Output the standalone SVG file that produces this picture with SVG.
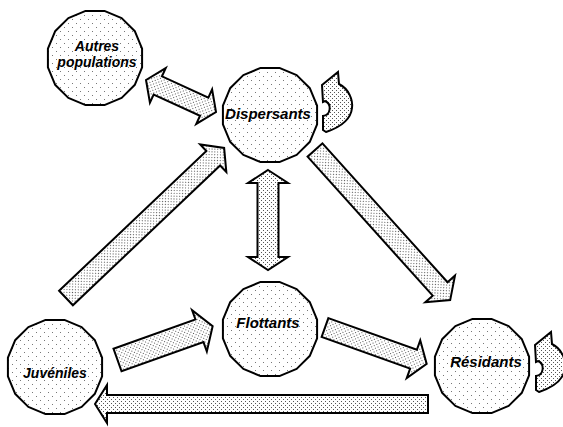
<svg xmlns="http://www.w3.org/2000/svg" width="563" height="427" viewBox="0 0 563 427">
<style>
.node{fill:url(#dotsSparse);stroke:#000;stroke-width:2;stroke-linejoin:round}
.arr{fill:url(#dotsDense);stroke:#000;stroke-width:2;stroke-linejoin:miter}
.lbl{font-family:"Liberation Sans",Arial,sans-serif;font-size:15px;font-weight:bold;font-style:italic;fill:#000;text-anchor:middle}
.sm{font-size:14px}
</style>
<defs>
<pattern id="dotsSparse" width="8" height="8" patternUnits="userSpaceOnUse">
<rect width="8" height="8" fill="#fff"/>
<rect x="1" y="1" width="1" height="1" fill="#777"/>
<rect x="5" y="5" width="1" height="1" fill="#777"/>
</pattern>
<pattern id="dotsDense" width="4" height="4" patternUnits="userSpaceOnUse">
<rect width="4" height="4" fill="#fff"/>
<rect x="0" y="0" width="1" height="1" fill="#555"/>
<rect x="2" y="2" width="1" height="1" fill="#555"/>
</pattern>
<polygon id="blob" points="47.08,9.37 39.91,26.67 26.67,39.91 9.37,47.08 -9.37,47.08 -26.67,39.91 -39.91,26.67 -47.08,9.37 -47.08,-9.37 -39.91,-26.67 -26.67,-39.91 -9.37,-47.08 9.37,-47.08 26.67,-39.91 39.91,-26.67 47.08,-9.37"/>
<path id="loop" d="M 0,13 L 16,0 L 17,12 C 27,17 31,28 30,36 C 29,46 22,54 4,60 L 1,58 L 1,44 C 9,43 10,32 3,29 L 1,30 Z"/>
</defs>

<g id="connectors">
<!-- Autres populations <-> Dispersants -->
<g transform="translate(146,80) rotate(24.6)"><polygon class="arr" points="0,0 13,-19 13,-10 64,-10 64,-19 77,0 64,19 64,10 13,10 13,19"/></g>
<!-- Juveniles -> Dispersants -->
<g transform="translate(66,298) rotate(-43.5)"><polygon class="arr" points="0,-10 203,-10 203,-19 218,0 203,19 203,10 0,10"/></g>
<!-- Dispersants -> Residants -->
<g transform="translate(315,150) rotate(48)"><polygon class="arr" points="0,-10 187,-10 187,-20 202,0 187,20 187,10 0,10"/></g>
<!-- Dispersants <-> Flottants -->
<g transform="translate(268,170) rotate(90)"><polygon class="arr" points="0,0 13,-20 13,-10.5 87,-10.5 87,-20 100,0 87,20 87,10.5 13,10.5 13,20"/></g>
<!-- Juveniles -> Flottants -->
<g transform="translate(117.5,360) rotate(-19.6)"><polygon class="arr" points="0,-12 87,-12 87,-22 101,0 87,22 87,12 0,12"/></g>
<!-- Flottants -> Residants -->
<g transform="translate(325,327.5) rotate(19.7)"><polygon class="arr" points="0,-10 94,-10 94,-20 108,0 94,20 94,10 0,10"/></g>
<!-- Residants -> Juveniles -->
<g transform="translate(428,404) rotate(180)"><polygon class="arr" points="0,-9 321,-9 321,-19 333,0 321,19 321,9 0,9"/></g>
<!-- self loops -->
<use href="#loop" class="arr" transform="translate(322,72)"/>
<use href="#loop" class="arr" transform="translate(535,332)"/>
</g>

<g id="autres">
<use href="#blob" class="node" transform="translate(95,58)"/>
<text class="lbl sm" x="97" y="51">Autres</text>
<text class="lbl sm" x="97" y="67">populations</text>
</g>
<g id="dispersants">
<use href="#blob" class="node" transform="translate(270,115)"/>
<text class="lbl" x="268" y="119">Dispersants</text>
</g>
<g id="flottants">
<use href="#blob" class="node" transform="translate(270,329)"/>
<text class="lbl" x="268" y="328">Flottants</text>
</g>
<g id="juveniles">
<use href="#blob" class="node" transform="translate(55,367)"/>
<text class="lbl sm" x="55" y="378">Juvéniles</text>
</g>
<g id="residants">
<use href="#blob" class="node" transform="translate(482,366)"/>
<text class="lbl" x="486" y="367">Résidants</text>
</g>
</svg>
